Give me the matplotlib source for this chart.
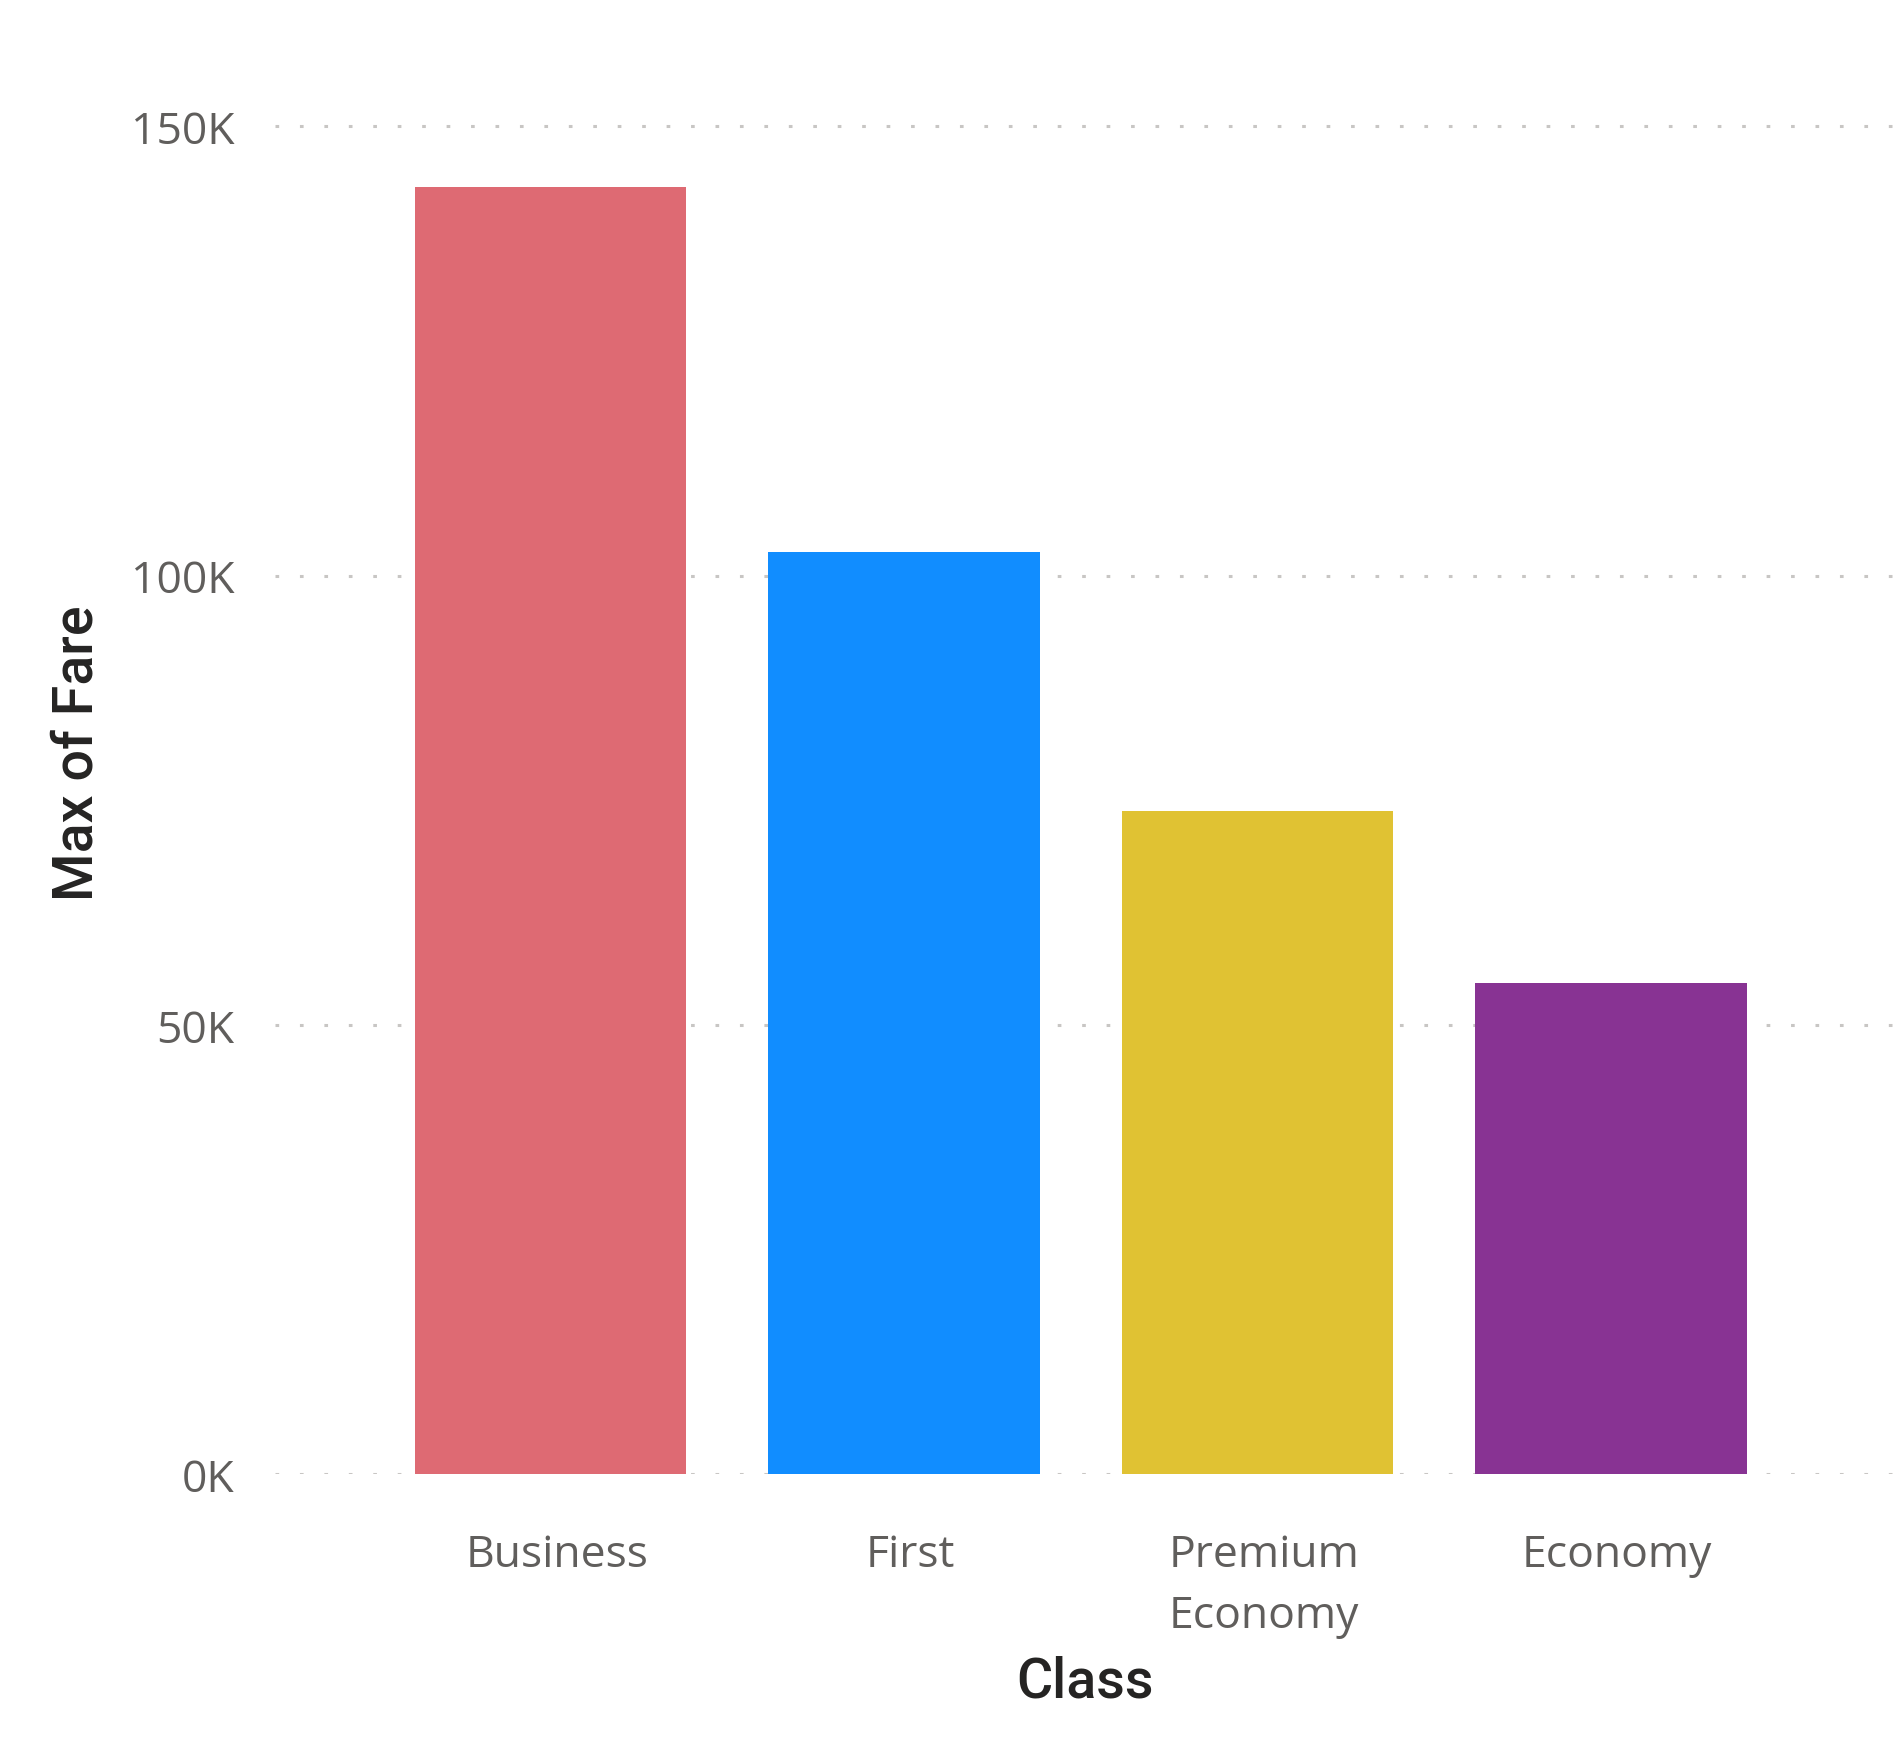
import matplotlib
matplotlib.use("Agg")
import matplotlib.pyplot as plt
import matplotlib.transforms as mtransforms
from matplotlib.ticker import FuncFormatter

classes = ["Business", "First", "Premium\nEconomy", "Economy"]
max_fare = [143300, 102600, 73800, 54700]
bar_colors = ["#DE6A73", "#118DFF", "#E0C233", "#883393"]
y_ticks = [0, 50000, 100000, 150000]

fig = plt.figure(figsize=(18.94, 17.4), dpi=100)
ax = fig.add_axes([0.1452, 0.1523, 0.8548, 0.7900])

x = range(len(classes))
ax.bar(x, max_fare, width=0.768, color=bar_colors, zorder=2)

ax.set_xlim(-0.78, 3.80)
ax.set_ylim(0, 153000)
ax.set_yticks(y_ticks)
ax.yaxis.set_major_formatter(FuncFormatter(lambda v, _: f"{int(v / 1000)}K"))
ax.set_xticks(list(x))
ax.set_xticklabels(classes, linespacing=1.5)

ax.grid(axis="y", color="#C8C6C4", linewidth=2.2, dashes=(1.2, 6.8), zorder=0)
ax.grid(axis="x", visible=False)
for s in ax.spines.values():
    s.set_visible(False)

ax.tick_params(axis="both", length=0, labelcolor="#605E5C", labelsize=32)
ax.tick_params(axis="y", pad=29)
ax.tick_params(axis="x", pad=42)
nudge = mtransforms.ScaledTranslation(6 / 100, 0, fig.dpi_scale_trans)
for lab in ax.get_xticklabels():
    lab.set_family("Open Sans")
    lab.set_transform(lab.get_transform() + nudge)
for lab in ax.get_yticklabels():
    lab.set_family("Open Sans")

ax.set_xlabel("Class", fontsize=40, color="#252423", family="Roboto",
              fontweight="medium", labelpad=12)
ax.set_ylabel("Max of Fare", fontsize=40, color="#252423", family="Roboto",
              fontweight="medium", labelpad=20)
ax.yaxis.label.set_y(0.525)

fig.savefig("out.png", dpi=100, facecolor="white")
